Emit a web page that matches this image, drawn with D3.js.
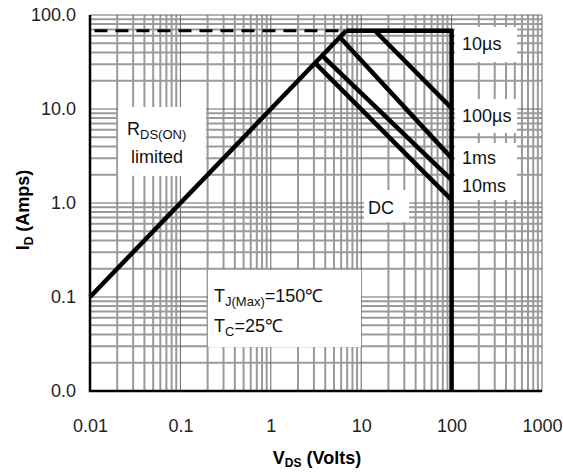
<!DOCTYPE html>
<html>
<head>
<meta charset="utf-8">
<script src="https://cdn.jsdelivr.net/npm/d3@7"></script>
<style>
  body { margin: 0; background: #fff; }
  svg { font-family: "Liberation Sans", Arial, sans-serif; }
</style>
</head>
<body>
<script>
// axis ticks
const vTicks = [0.01, 0.1, 1, 10, 100, 1000];
const vLabels = ['0.01', '0.1', '1', '10', '100', '1000'];
const iTicks = [0.01, 0.1, 1, 10, 100];
const iLabels = ['0.0', '0.1', '1.0', '10.0', '100.0'];

// SOA curves, [V, A]
const rdsLimit = [[0.01, 0.1], [6.8, 68]];
const envelope = [[6.8, 68], [100, 68], [100, 0.01]];
const currentLimit = [[0.0112, 68], [6.8, 68]];
const pulse10us = [[14.2, 68], [100, 10.2]];
const pulse100us = [[5.8, 58], [100, 3.0]];
const pulse1ms = [[3.7, 37], [100, 1.76]];
const pulse10ms = [[3.08, 31], [100, 1.08]];

const W = 563, H = 474;
const plotLeft = 90, plotRight = 542, plotTop = 15, plotBottom = 391;

const x = d3.scaleLog().domain([0.01, 1000]).range([plotLeft, plotRight]);
const y = d3.scaleLog().domain([0.01, 100]).range([plotBottom, plotTop]);

const svg = d3.select('body').append('svg').attr('width', W).attr('height', H);

// grid
const minorV = [], majorV = [];
vTicks.forEach(d => {
    majorV.push(d);
    if (d < 1000) for (let k = 2; k <= 9; k++) minorV.push(d * k);
});
const minorI = [], majorI = [];
iTicks.forEach(d => {
    majorI.push(d);
    if (d < 100) for (let k = 2; k <= 9; k++) minorI.push(d * k);
});

const grid = svg.append('g');
grid.selectAll('.vminor').data(minorV).join('line')
    .attr('x1', d => x(d)).attr('x2', d => x(d))
    .attr('y1', plotTop).attr('y2', plotBottom)
    .attr('stroke', '#9a9a9a').attr('stroke-width', 2);
grid.selectAll('.hminor').data(minorI).join('line')
    .attr('y1', d => y(d)).attr('y2', d => y(d))
    .attr('x1', plotLeft).attr('x2', plotRight)
    .attr('stroke', '#9a9a9a').attr('stroke-width', 2);
grid.selectAll('.vmajor').data(majorV).join('line')
    .attr('x1', d => x(d)).attr('x2', d => x(d))
    .attr('y1', plotTop).attr('y2', plotBottom)
    .attr('stroke', '#666').attr('stroke-width', 1);
grid.selectAll('.hmajor').data(majorI).join('line')
    .attr('y1', d => y(d)).attr('y2', d => y(d))
    .attr('x1', plotLeft).attr('x2', plotRight)
    .attr('stroke', '#666').attr('stroke-width', 1);

// white boxes behind the annotations
const masks = [
    [118, 107, 88, 69],
    [208, 270, 153, 77],
    [455, 27, 62, 35],
    [455, 99, 62, 34],
    [455, 143, 62, 57],
    [364, 190, 45, 32]
];
svg.append('g').selectAll('rect').data(masks).join('rect')
    .attr('x', d => d[0]).attr('y', d => d[1])
    .attr('width', d => d[2]).attr('height', d => d[3])
    .attr('fill', '#fff');

// axis frame (left + bottom)
svg.append('path')
    .attr('d', `M${plotLeft},${plotTop}V${plotBottom}H${plotRight}`)
    .attr('fill', 'none').attr('stroke', '#000').attr('stroke-width', 2.5);

// axes labels
const xAxis = svg.append('g')
    .attr('transform', `translate(0,${plotBottom})`)
    .call(d3.axisBottom(x).tickValues(vTicks).tickFormat((d, i) => vLabels[i]).tickSize(0).tickPadding(28));
xAxis.select('.domain').remove();
xAxis.selectAll('text').attr('font-size', 18).attr('fill', '#222');
xAxis.attr('font-family', null).attr('font-size', null);

const yAxis = svg.append('g')
    .attr('transform', `translate(${plotLeft},0)`)
    .call(d3.axisLeft(y).tickValues(iTicks).tickFormat((d, i) => iLabels[i]).tickSize(0).tickPadding(14));
yAxis.select('.domain').remove();
yAxis.selectAll('text').attr('font-size', 18).attr('fill', '#222');
yAxis.attr('font-family', null).attr('font-size', null);

// curves
const line = d3.line().x(d => x(d[0])).y(d => y(d[1]));
const curves = [rdsLimit, envelope, pulse10us, pulse100us, pulse1ms, pulse10ms];
svg.append('g').selectAll('path').data(curves).join('path')
    .attr('d', line)
    .attr('fill', 'none').attr('stroke', '#000').attr('stroke-width', 4.5)
    .attr('stroke-linejoin', 'round');
svg.append('path').datum(currentLimit)
    .attr('d', line)
    .attr('fill', 'none').attr('stroke', '#000').attr('stroke-width', 3)
    .attr('stroke-dasharray', '13,8');

// annotations
const ann = svg.append('g').attr('font-size', 18).attr('fill', '#111');
const pulseLabels = [['10\u00b5s', 50], ['100\u00b5s', 122], ['1ms', 164], ['10ms', 192]];
ann.selectAll('.pl').data(pulseLabels).join('text')
    .attr('x', 462).attr('y', d => d[1]).text(d => d[0]);
ann.append('text').attr('x', 368).attr('y', 214).text('DC');

const rds = ann.append('text').attr('x', 127).attr('y', 135);
rds.append('tspan').text('R');
rds.append('tspan').attr('font-size', 13).attr('dy', 4).text('DS(ON)');
ann.append('text').attr('x', 131).attr('y', 163).text('limited');

const tj = ann.append('text').attr('x', 214).attr('y', 302);
tj.append('tspan').text('T');
tj.append('tspan').attr('font-size', 13).attr('dy', 4).text('J(Max)');
tj.append('tspan').attr('dy', -4).text('=150\u2103');
const tc = ann.append('text').attr('x', 214).attr('y', 332);
tc.append('tspan').text('T');
tc.append('tspan').attr('font-size', 13).attr('dy', 4).text('C');
tc.append('tspan').attr('dy', -4).text('=25\u2103');

// axis titles
const xt = svg.append('text').attr('x', 317).attr('y', 464)
    .attr('text-anchor', 'middle').attr('font-size', 18).attr('font-weight', 'bold');
xt.append('tspan').text('V');
xt.append('tspan').attr('font-size', 12).attr('dy', 3).text('DS');
xt.append('tspan').attr('dy', -3).text(' (Volts)');

const yt = svg.append('text').attr('transform', 'translate(29,210) rotate(-90)')
    .attr('text-anchor', 'middle').attr('font-size', 18).attr('font-weight', 'bold');
yt.append('tspan').text('I');
yt.append('tspan').attr('font-size', 12).attr('dy', 4).text('D');
yt.append('tspan').attr('dy', -4).text(' (Amps)');
</script>
</body>
</html>
